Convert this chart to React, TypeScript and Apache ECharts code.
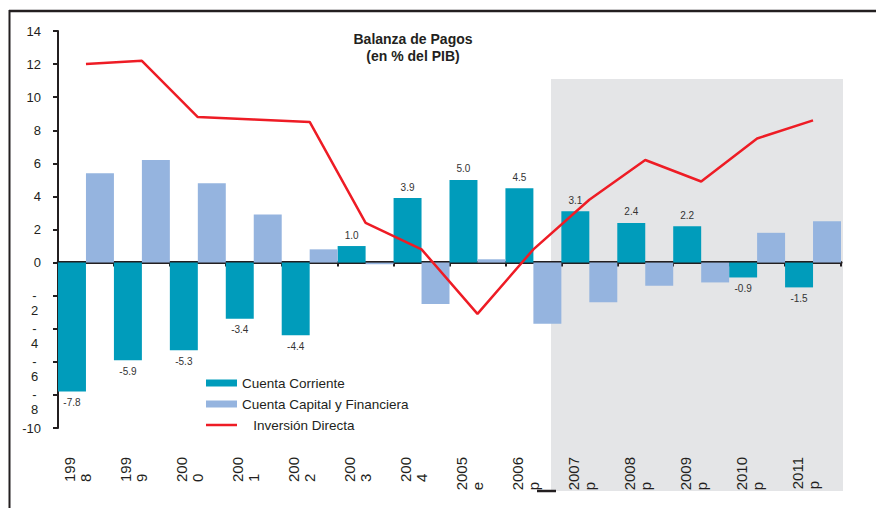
import { useEffect, useRef } from 'react';
import * as echarts from 'echarts';

const categories = ['1998', '1999', '2000', '2001', '2002', '2003', '2004', '2005e', '2006p', '2007p', '2008p', '2009p', '2010p', '2011p'];
const cuentaCorriente = [-7.8, -5.9, -5.3, -3.4, -4.4, 1.0, 3.9, 5.0, 4.5, 3.1, 2.4, 2.2, -0.9, -1.5];
const cuentaCapital = [5.4, 6.2, 4.8, 2.9, 0.8, -0.1, -2.5, 0.2, -3.7, -2.4, -1.4, -1.2, 1.8, 2.5];
const inversionDirecta = [12.0, 12.2, 8.8, 8.65, 8.5, 2.4, 0.8, -3.1, 0.8, 3.8, 6.2, 4.9, 7.5, 8.6];
const yMin = -10;
const yMax = 14;
const yInterval = 2;

const FONT = '"Liberation Sans", Arial, sans-serif';
const DARK = '#231F20';

function splitCategory(s: string): [string, string] {
  return s.length === 4 ? [s.slice(0, 3), s.slice(3)] : [s.slice(0, 4), s.slice(4)];
}

export default function App() {
  const ref = useRef<HTMLDivElement>(null);
  useEffect(() => {
    if (!ref.current) return;
    const chart = echarts.init(ref.current, null, { renderer: 'svg' });
    chart.setOption({
      animation: false,
      backgroundColor: '#ffffff',
      textStyle: { fontFamily: FONT },
      title: {
        text: 'Balanza de Pagos\n(en % del PIB)',
        left: 413,
        top: 30,
        padding: 0,
        textAlign: 'center',
        textStyle: { fontFamily: FONT, fontSize: 14, fontWeight: 'bold', color: DARK, lineHeight: 17 },
      },
      legend: {
        orient: 'vertical',
        left: 206,
        top: 376,
        padding: 0,
        itemWidth: 31,
        itemHeight: 7,
        itemGap: 7,
        textStyle: { fontFamily: FONT, fontSize: 13.5, color: DARK },
        formatter: (name: string) => (name === 'Inversión Directa' ? '   ' + name : name),
        data: [
          { name: 'Cuenta Corriente', icon: 'rect' },
          { name: 'Cuenta Capital y Financiera', icon: 'rect' },
          { name: 'Inversión Directa', icon: 'path://M0,0H31V2.5H0Z' },
        ],
      },
      grid: { left: 58, right: 35, top: 31, bottom: 80, outerBoundsMode: 'none', containLabel: false },
      graphic: [
        { type: 'rect', z: -10, silent: true, shape: { x: 551, y: 79, width: 292, height: 412 }, style: { fill: '#E4E5E7' } },
        { type: 'line', silent: true, shape: { x1: 9, y1: 11, x2: 876, y2: 11 }, style: { stroke: DARK, lineWidth: 2.5 } },
        { type: 'line', silent: true, shape: { x1: 9.5, y1: 10, x2: 9.5, y2: 508 }, style: { stroke: DARK, lineWidth: 2 } },
        { type: 'line', silent: true, shape: { x1: 537, y1: 491, x2: 556, y2: 491 }, style: { stroke: DARK, lineWidth: 2.5 } },
      ],
      xAxis: [
        {
          type: 'category',
          data: categories,
          position: 'bottom',
          boundaryGap: true,
          axisLine: { show: false, onZero: false },
          axisTick: { show: false },
          splitLine: { show: false },
          axisLabel: {
            interval: 0,
            rotate: 90,
            margin: 29,
            fontSize: 15,
            color: DARK,
            fontFamily: FONT,
            formatter: (v: string) => {
              const [a, b] = splitCategory(v);
              return `{t|${a}}\n{t|${b}}\n{t| }`;
            },
            rich: { t: { fontSize: 15, lineHeight: 16, align: 'left', color: DARK, fontFamily: FONT } },
          },
        },
        {
          type: 'category',
          data: categories,
          position: 'top',
          boundaryGap: true,
          axisLine: { show: true, onZero: true, lineStyle: { color: DARK, width: 3 } },
          axisTick: { show: true, inside: true, length: 4, interval: 0, lineStyle: { color: DARK, width: 2 } },
          axisLabel: { show: false },
          splitLine: { show: false },
        },
      ],
      yAxis: {
        type: 'value',
        min: yMin,
        max: yMax,
        interval: yInterval,
        axisLine: { show: true, onZero: false, lineStyle: { color: DARK, width: 2 } },
        axisTick: { show: true, length: 5, lineStyle: { color: DARK, width: 2 } },
        splitLine: { show: false },
        axisLabel: {
          margin: 17,
          fontSize: 13,
          color: DARK,
          fontFamily: FONT,
          formatter: (v: number) =>
            v < 0 && v !== yMin ? `{c| }\n{c|-}\n{c|${-v}}` : String(v),
          rich: { c: { width: 13, align: 'center', fontSize: 13, lineHeight: 15, color: DARK, fontFamily: FONT } },
        },
      },
      series: [
        {
          name: 'Cuenta Corriente',
          type: 'bar',
          xAxisIndex: 0,
          barGap: '0%',
          barCategoryGap: '0%',
          itemStyle: { color: '#009CBB' },
          label: {
            show: true,
            fontSize: 10,
            color: '#333333',
            fontFamily: FONT,
            distance: 6,
            formatter: (p: any) => Number(p.value).toFixed(1),
          },
          data: cuentaCorriente.map((v) => ({ value: v, label: { position: v < 0 ? 'bottom' : 'top' } })),
          z: 3,
        },
        {
          name: 'Cuenta Capital y Financiera',
          type: 'bar',
          xAxisIndex: 0,
          barGap: '0%',
          barCategoryGap: '0%',
          itemStyle: { color: '#95B4DF' },
          data: cuentaCapital,
          z: 3,
        },
        {
          name: 'Inversión Directa',
          type: 'line',
          xAxisIndex: 0,
          symbol: 'none',
          lineStyle: { color: '#EE1C25', width: 2.5 },
          itemStyle: { color: '#EE1C25' },
          data: inversionDirecta,
          z: 5,
        },
      ],
    });
    return () => chart.dispose();
  }, []);
  return (
    <div
      ref={ref}
      style={{ position: 'fixed', left: 0, top: 0, width: 876, height: 508, background: '#fff' }}
    />
  );
}
